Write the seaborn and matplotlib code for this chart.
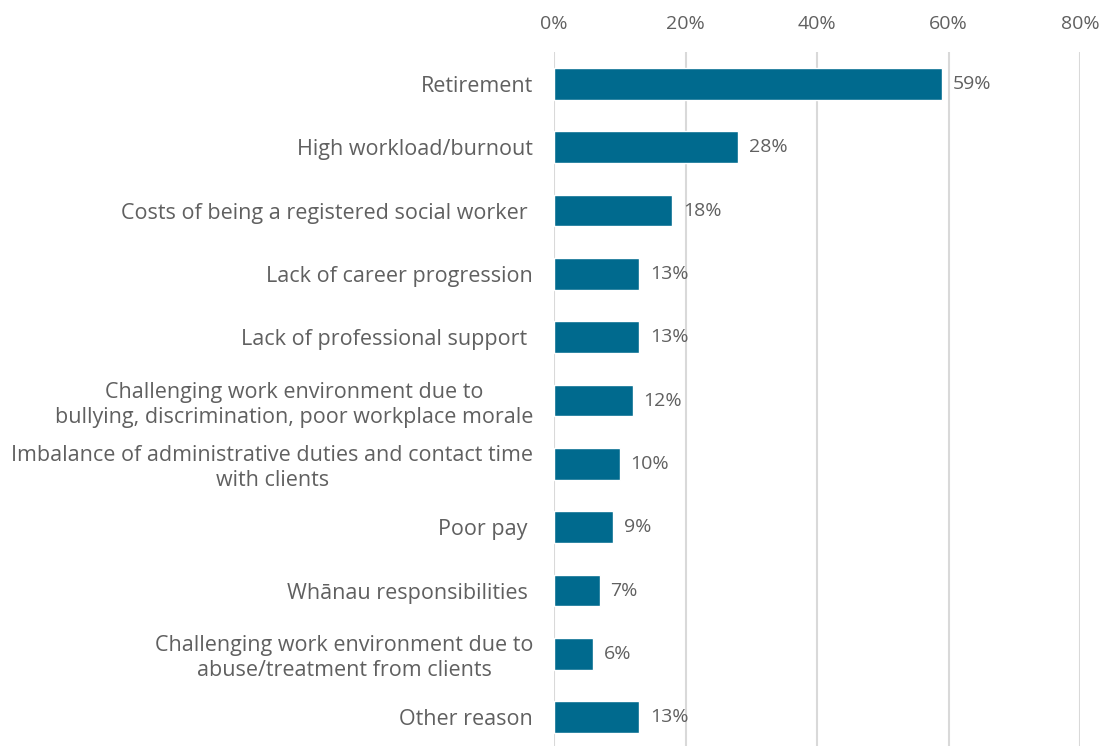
import matplotlib
matplotlib.use("Agg")
import matplotlib.pyplot as plt
import seaborn as sns
import pandas as pd

reasons = [
    "Retirement",
    "High workload/burnout",
    "Costs of being a registered social worker ",
    "Lack of career progression",
    "Lack of professional support ",
    "Challenging work environment due to\nbullying, discrimination, poor workplace morale",
    "Imbalance of administrative duties and contact time\nwith clients",
    "Poor pay ",
    "Whānau responsibilities ",
    "Challenging work environment due to\nabuse/treatment from clients",
    "Other reason",
]
shares = [59, 28, 18, 13, 13, 12, 10, 9, 7, 6, 13]
x_ticks = [0, 20, 40, 60, 80]
x_tick_labels = ["0%", "20%", "40%", "60%", "80%"]

df = pd.DataFrame({"reason": reasons, "share": shares})

sns.set_theme(style="white")
plt.rcParams["font.family"] = ["Open Sans", "DejaVu Sans"]

text_color = "#606060"
bar_color = "#006A8E"
label_fs = 15.5
value_fs = 14

fig = plt.figure(figsize=(11.03, 7.46), dpi=100)
ax = fig.add_axes([554 / 1103, -0.004, 526 / 1103, 0.934])

sns.barplot(data=df, x="share", y="reason", color=bar_color, width=0.5,
            saturation=1, ax=ax, orient="h")

ax.set_xlim(0, 80)
ax.set_xticks(x_ticks)
ax.set_xticklabels(x_tick_labels)
ax.xaxis.tick_top()
ax.tick_params(axis="x", length=0, pad=14, labelsize=value_fs, labelcolor=text_color)
ax.tick_params(axis="y", length=0, pad=15, labelsize=label_fs, labelcolor=text_color)
for lab in ax.get_yticklabels():
    lab.set_multialignment("center")
    lab.set_linespacing(1.25)

ax.grid(axis="x", color="#d9d9d9", linewidth=1.5)
ax.set_axisbelow(True)
for s in ax.spines.values():
    s.set_visible(False)
ax.set_xlabel("")
ax.set_ylabel("")

for i, v in enumerate(shares):
    ax.text(v + 1.6, i, f"{v}%", va="center", ha="left", fontsize=value_fs,
            color=text_color)

fig.savefig("out.png", dpi=100)
